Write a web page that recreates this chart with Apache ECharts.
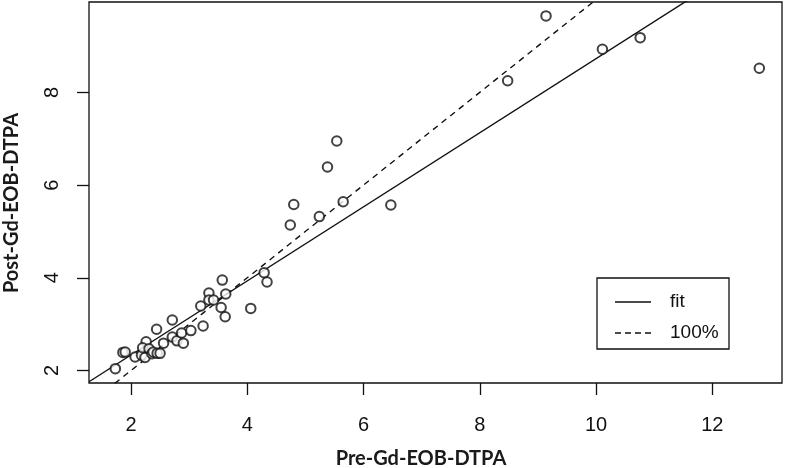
<!DOCTYPE html>
<html>
<head>
<meta charset="utf-8">
<script src="https://cdn.jsdelivr.net/npm/echarts@6/dist/echarts.min.js"></script>
<style>html,body{margin:0;padding:0;background:#fff;}#c{width:788px;height:468px;}</style>
</head>
<body>
<div id="c"></div>
<script>
// Data
var preValues = [1.73,1.86,1.90,2.07,2.18,2.24,2.26,2.20,2.31,2.36,2.38,2.44,2.45,2.50,2.56,2.71,2.71,2.79,2.87,2.90,3.03,3.24,3.20,3.34,3.34,3.42,3.55,3.57,3.62,3.63,4.06,4.29,4.34,4.74,4.80,5.24,5.38,5.54,5.65,6.47,8.48,9.14,10.11,10.76,12.81];
var postValues = [2.04,2.39,2.40,2.29,2.33,2.28,2.62,2.49,2.47,2.36,2.40,2.89,2.37,2.37,2.59,3.09,2.72,2.64,2.81,2.59,2.86,2.96,3.39,3.67,3.52,3.52,3.36,3.95,3.16,3.65,3.34,4.11,3.91,5.14,5.58,5.32,6.39,6.95,5.64,5.57,8.25,9.65,8.93,9.18,8.52];
var xTicks = [2,4,6,8,10,12];
var yTicks = [2,4,6,8];
var fitIntercept = 0.737;
var fitSlope = 0.799;
var xRange = [1.277, 13.2];
var yRange = [1.73, 9.95];
var legendNames = ['fit', '100%'];
var xTitle = 'Pre-Gd-EOB-DTPA';
var yTitle = 'Post-Gd-EOB-DTPA';

var points = preValues.map(function(v, i){ return [v, postValues[i]]; });
var fitLine = xRange.map(function(x){ return [x, fitIntercept + fitSlope * x]; });
var idLine = xRange.map(function(x){ return [x, x]; });

var chart = echarts.init(document.getElementById('c'), null, {renderer:'canvas'});
var tickFont = {fontFamily:'Liberation Sans, Arial, sans-serif', fontSize:20, color:'#111'};
var titleStyle = {fontFamily:'Lato, sans-serif', fontWeight:'bold', fontSize:20, fill:'#1a1a1a', align:'center', verticalAlign:'middle'};
chart.setOption({
  animation:false,
  backgroundColor:'#fff',
  grid:{left:89, right:6, top:2, bottom:85, show:true, borderColor:'#111', borderWidth:1.3, containLabel:false},
  xAxis:{
    type:'value', min:xRange[0], max:xRange[1],
    axisLine:{show:false},
    axisTick:{show:true, length:12, customValues:xTicks, lineStyle:{color:'#111', width:1.3}},
    axisLabel:Object.assign({customValues:xTicks, margin:32}, tickFont),
    splitLine:{show:false}
  },
  yAxis:{
    type:'value', min:yRange[0], max:yRange[1],
    axisLine:{show:false},
    axisTick:{show:true, length:12, customValues:yTicks, lineStyle:{color:'#111', width:1.3}},
    axisLabel:Object.assign({customValues:yTicks, margin:27, rotate:90}, tickFont),
    splitLine:{show:false}
  },
  series:[
    {type:'scatter', data:points, symbol:'emptyCircle', symbolSize:9.5,
     itemStyle:{color:'#111', borderColor:'#111', borderWidth:1.2}, z:3},
    {type:'line', name:legendNames[0], data:fitLine, showSymbol:false, symbol:'none', clip:true,
     lineStyle:{color:'#111', width:1.4, type:'solid'}},
    {type:'line', name:legendNames[1], data:idLine, showSymbol:false, symbol:'none', clip:true,
     lineStyle:{color:'#111', width:1.4, type:[6,5]}}
  ],
  graphic:[
    {type:'text', x:421, y:459, style:Object.assign({text:xTitle}, titleStyle)},
    {type:'text', x:12, y:203, rotation:Math.PI/2, style:Object.assign({text:yTitle}, titleStyle)},
    {type:'rect', shape:{x:597, y:278, width:132, height:71}, style:{fill:'#fff', stroke:'#111', lineWidth:1.3}, z:10},
    {type:'line', shape:{x1:615, y1:302, x2:651, y2:302}, style:{stroke:'#111', lineWidth:1.4}, z:11},
    {type:'line', shape:{x1:615, y1:333, x2:651, y2:333}, style:{stroke:'#111', lineWidth:1.4, lineDash:[6,4]}, z:11},
    {type:'text', x:670, y:302, style:{text:legendNames[0], fontFamily:'Liberation Sans, Arial, sans-serif', fontSize:19, fill:'#111', verticalAlign:'middle', align:'left'}, z:11},
    {type:'text', x:670, y:333, style:{text:legendNames[1], fontFamily:'Liberation Sans, Arial, sans-serif', fontSize:19, fill:'#111', verticalAlign:'middle', align:'left'}, z:11}
  ]
});
</script>
</body>
</html>
